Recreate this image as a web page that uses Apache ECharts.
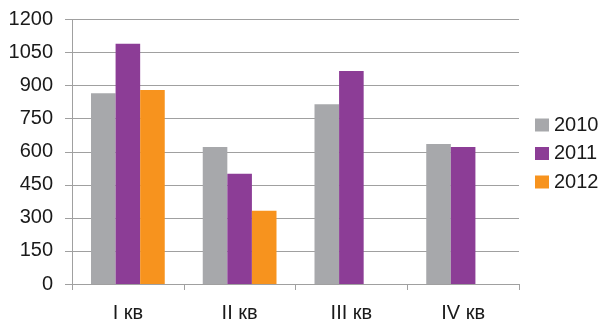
<!DOCTYPE html>
<html>
<head>
<meta charset="utf-8">
<script src="https://cdn.jsdelivr.net/npm/echarts@6/dist/echarts.min.js"></script>
<style>
html,body{margin:0;padding:0;background:#fff;}
#c{width:608px;height:323px;}
</style>
</head>
<body>
<div id="c"></div>
<script>
const categories = ['I кв', 'II кв', 'III кв', 'IV кв'];
const seriesNames = ['2010', '2011', '2012'];
const values2010 = [865, 622, 816, 635];
const values2011 = [1090, 500, 966, 622];
const values2012 = [880, 332, null, null];
const yTicks = [0, 150, 300, 450, 600, 750, 900, 1050, 1200];

const colors = ['#A7A8AB', '#8C3D96', '#F7931E'];
const font = 'Liberation Sans, Arial, sans-serif';
const chart = echarts.init(document.getElementById('c'), null, {renderer: 'canvas'});
const mk = (name, data, i) => ({
  name: name, type: 'bar', data: data, barGap: '0%', barCategoryGap: '34%',
  itemStyle: {color: colors[i]}, animation: false
});
function fmt(v) {
  const n = Math.round(Number(String(v).replace(/[^0-9.\-]/g, '')));
  return n.toFixed(0);
}
chart.setOption({
  animation: false,
  textStyle: {fontFamily: font},
  grid: {left: 72, right: 89, top: 19.5, bottom: 39, containLabel: false},
  legend: {
    orient: 'vertical', left: 535, top: 115, padding: 0,
    itemWidth: 14, itemHeight: 13, itemGap: 8.5,
    icon: 'rect',
    textStyle: {fontSize: 20, color: '#1a1a1a', fontFamily: font},
    data: seriesNames
  },
  xAxis: {
    type: 'category', data: categories,
    axisLine: {lineStyle: {color: '#A0A0A0', width: 1}},
    axisTick: {show: true, length: 6, lineStyle: {color: '#A0A0A0'}},
    axisLabel: {fontSize: 20, color: '#1a1a1a', margin: 19, fontFamily: font}
  },
  yAxis: {
    type: 'value', min: yTicks[0], max: yTicks[yTicks.length - 1], interval: yTicks[1] - yTicks[0],
    axisLine: {show: true, lineStyle: {color: '#A0A0A0', width: 1}},
    axisTick: {show: true, length: 7, lineStyle: {color: '#A0A0A0'}},
    splitLine: {show: true, lineStyle: {color: '#A0A0A0', width: 1}},
    axisLabel: {fontSize: 20, color: '#1a1a1a', margin: 19, fontFamily: font, formatter: fmt}
  },
  series: [mk(seriesNames[0], values2010, 0), mk(seriesNames[1], values2011, 1), mk(seriesNames[2], values2012, 2)]
});
</script>
</body>
</html>
